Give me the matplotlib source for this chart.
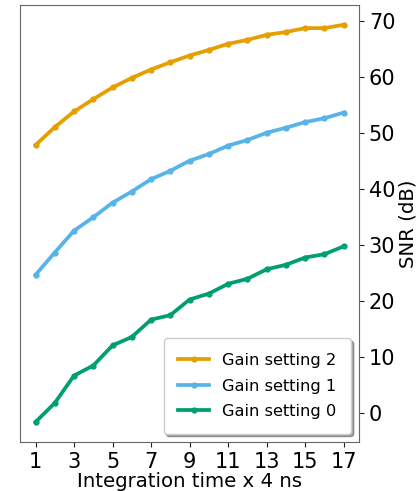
import matplotlib.pyplot as plt

# data
t = list(range(1, 18))
gain2 = [47.8, 51.0, 53.8, 56.0, 58.1, 59.8, 61.3, 62.6, 63.8, 64.8, 65.9, 66.6, 67.5, 68.0, 68.7, 68.7, 69.3]
gain1 = [24.6, 28.6, 32.5, 34.9, 37.5, 39.5, 41.7, 43.2, 45.0, 46.2, 47.7, 48.7, 50.0, 50.9, 51.9, 52.6, 53.6]
gain0 = [-1.7, 1.7, 6.6, 8.4, 12.0, 13.5, 16.6, 17.4, 20.2, 21.25, 23.0, 23.9, 25.6, 26.4, 27.7, 28.3, 29.7]
xticks = [1, 3, 5, 7, 9, 11, 13, 15, 17]

fig = plt.figure(figsize=(4.19, 4.91), dpi=100)
ax = fig.add_axes([0.048, 0.1, 0.809, 0.89])

ax.plot(t, gain2, color='#E69F00', lw=2.7, marker='o', ms=3.5, label='Gain setting 2')
ax.plot(t, gain1, color='#56B4E9', lw=2.7, marker='o', ms=3.5, label='Gain setting 1')
ax.plot(t, gain0, color='#009E73', lw=2.7, marker='o', ms=3.5, label='Gain setting 0')

ax.yaxis.tick_right()
ax.yaxis.set_label_position('right')
ax.set_xticks(xticks)
ax.tick_params(axis='both', labelsize=15, colors='#222222', labelcolor='black')
for s in ax.spines.values():
    s.set_color('#666666')
ax.set_xlabel('Integration time x 4 ns', fontsize=14.2, labelpad=0)
ax.set_ylabel('SNR (dB)', fontsize=14.2, labelpad=2)
ax.legend(loc='lower right', fontsize=11.7, shadow=True, borderpad=0.9,
          handlelength=1.9, labelspacing=0.65)

plt.savefig('out.png', dpi=100)
